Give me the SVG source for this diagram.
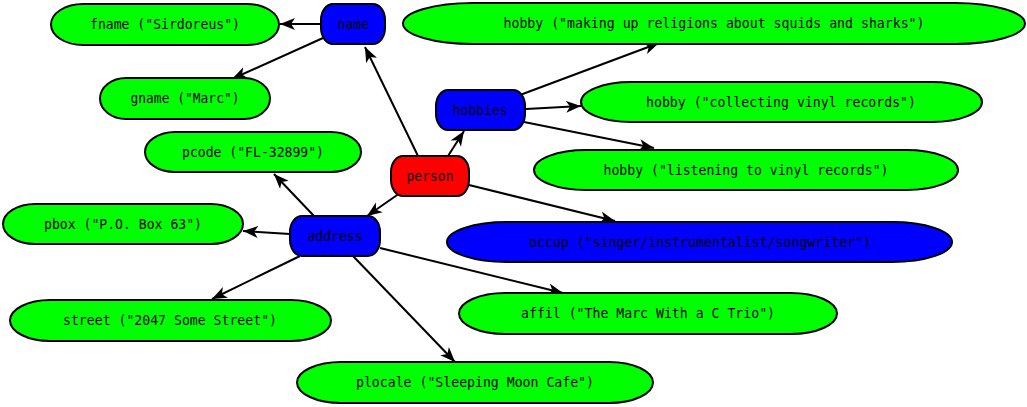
<svg xmlns="http://www.w3.org/2000/svg" width="1027" height="407" viewBox="0 0 1027 407">
<style>
.g{fill:#00ff00;stroke:#000;stroke-width:2}
.b{fill:#0000ff;stroke:#000;stroke-width:2}
.r{fill:#ff0000;stroke:#000;stroke-width:2}
text{font-family:"DejaVu Sans Mono","Liberation Mono",monospace;font-size:14px;fill:#000;text-anchor:middle}
.e line{stroke:#000;stroke-width:2;marker-end:url(#ah)}
</style>
<defs>
<marker id="ah" markerUnits="userSpaceOnUse" markerWidth="18" markerHeight="14" viewBox="0 0 18 14" refX="15" refY="6" orient="auto">
<path d="M0,0 L15,6 L0,12 L4,6 z" fill="#000"/>
</marker>
</defs>
<rect width="1027" height="407" fill="#fff"/>
<g class="e" id="edges">
<line x1="321" y1="24" x2="280" y2="24"/>
<line x1="323" y1="38" x2="232" y2="79"/>
<line x1="418" y1="156" x2="365" y2="47"/>
<line x1="448" y1="156" x2="464" y2="131"/>
<line x1="520" y1="95" x2="659" y2="43"/>
<line x1="526" y1="109" x2="581" y2="106"/>
<line x1="524" y1="122" x2="654" y2="148"/>
<line x1="469" y1="185" x2="615" y2="221"/>
<line x1="400" y1="193" x2="367" y2="216"/>
<line x1="314" y1="216" x2="274" y2="174"/>
<line x1="290" y1="234" x2="243" y2="231"/>
<line x1="300" y1="256" x2="212" y2="299"/>
<line x1="353" y1="256" x2="455" y2="362"/>
<line x1="380" y1="248" x2="563" y2="293"/>
</g>
<g id="name"><rect class="b" x="321" y="4" width="64" height="40" rx="12" ry="16"/><text x="353" y="29" textLength="31.6" lengthAdjust="spacingAndGlyphs">name</text></g>
<g id="fname"><rect class="g" x="51" y="4" width="228" height="41" rx="32" ry="20.5"/><text x="165" y="29" textLength="150" lengthAdjust="spacingAndGlyphs">fname ("Sirdoreus")</text></g>
<g id="gname"><rect class="g" x="100" y="78" width="170" height="41" rx="26" ry="20.5"/><text x="185" y="103" textLength="109" lengthAdjust="spacingAndGlyphs">gname ("Marc")</text></g>
<g id="hobby1"><rect class="g" x="403" y="3" width="622" height="41" rx="70" ry="20.5"/><text x="714" y="28" textLength="421" lengthAdjust="spacingAndGlyphs">hobby ("making up religions about squids and sharks")</text></g>
<g id="hobbies"><rect class="b" x="436" y="90" width="89" height="40" rx="12" ry="16"/><text x="480" y="115" textLength="55" lengthAdjust="spacingAndGlyphs">hobbies</text></g>
<g id="hobby2"><rect class="g" x="581" y="82" width="401" height="40" rx="50" ry="20"/><text x="781" y="107" textLength="270" lengthAdjust="spacingAndGlyphs">hobby ("collecting vinyl records")</text></g>
<g id="hobby3"><rect class="g" x="534" y="150" width="424" height="40" rx="52" ry="20"/><text x="746" y="175" textLength="285" lengthAdjust="spacingAndGlyphs">hobby ("listening to vinyl records")</text></g>
<g id="person"><rect class="r" x="391" y="156" width="78" height="40" rx="12" ry="16"/><text x="430" y="181" textLength="47" lengthAdjust="spacingAndGlyphs">person</text></g>
<g id="pcode"><rect class="g" x="145" y="132" width="216" height="40" rx="30" ry="20"/><text x="253" y="157" textLength="142" lengthAdjust="spacingAndGlyphs">pcode ("FL-32899")</text></g>
<g id="pbox"><rect class="g" x="3" y="204" width="240" height="40" rx="32" ry="20"/><text x="123" y="229" textLength="158" lengthAdjust="spacingAndGlyphs">pbox ("P.O. Box 63")</text></g>
<g id="address"><rect class="b" x="290" y="216" width="90" height="40" rx="12" ry="16"/><text x="335" y="241" textLength="55" lengthAdjust="spacingAndGlyphs">address</text></g>
<g id="occup"><rect class="b" x="447" y="222" width="505" height="40" rx="60" ry="20"/><text x="700" y="247" textLength="342" lengthAdjust="spacingAndGlyphs">occup ("singer/instrumentalist/songwriter")</text></g>
<g id="street"><rect class="g" x="10" y="300" width="321" height="41" rx="40" ry="20.5"/><text x="170" y="325" textLength="214" lengthAdjust="spacingAndGlyphs">street ("2047 Some Street")</text></g>
<g id="affil"><rect class="g" x="459" y="293" width="378" height="41" rx="46" ry="20.5"/><text x="648" y="318" textLength="254" lengthAdjust="spacingAndGlyphs">affil ("The Marc With a C Trio")</text></g>
<g id="plocale"><rect class="g" x="297" y="362" width="356" height="41" rx="44" ry="20.5"/><text x="475" y="387" textLength="238" lengthAdjust="spacingAndGlyphs">plocale ("Sleeping Moon Cafe")</text></g>
</svg>
